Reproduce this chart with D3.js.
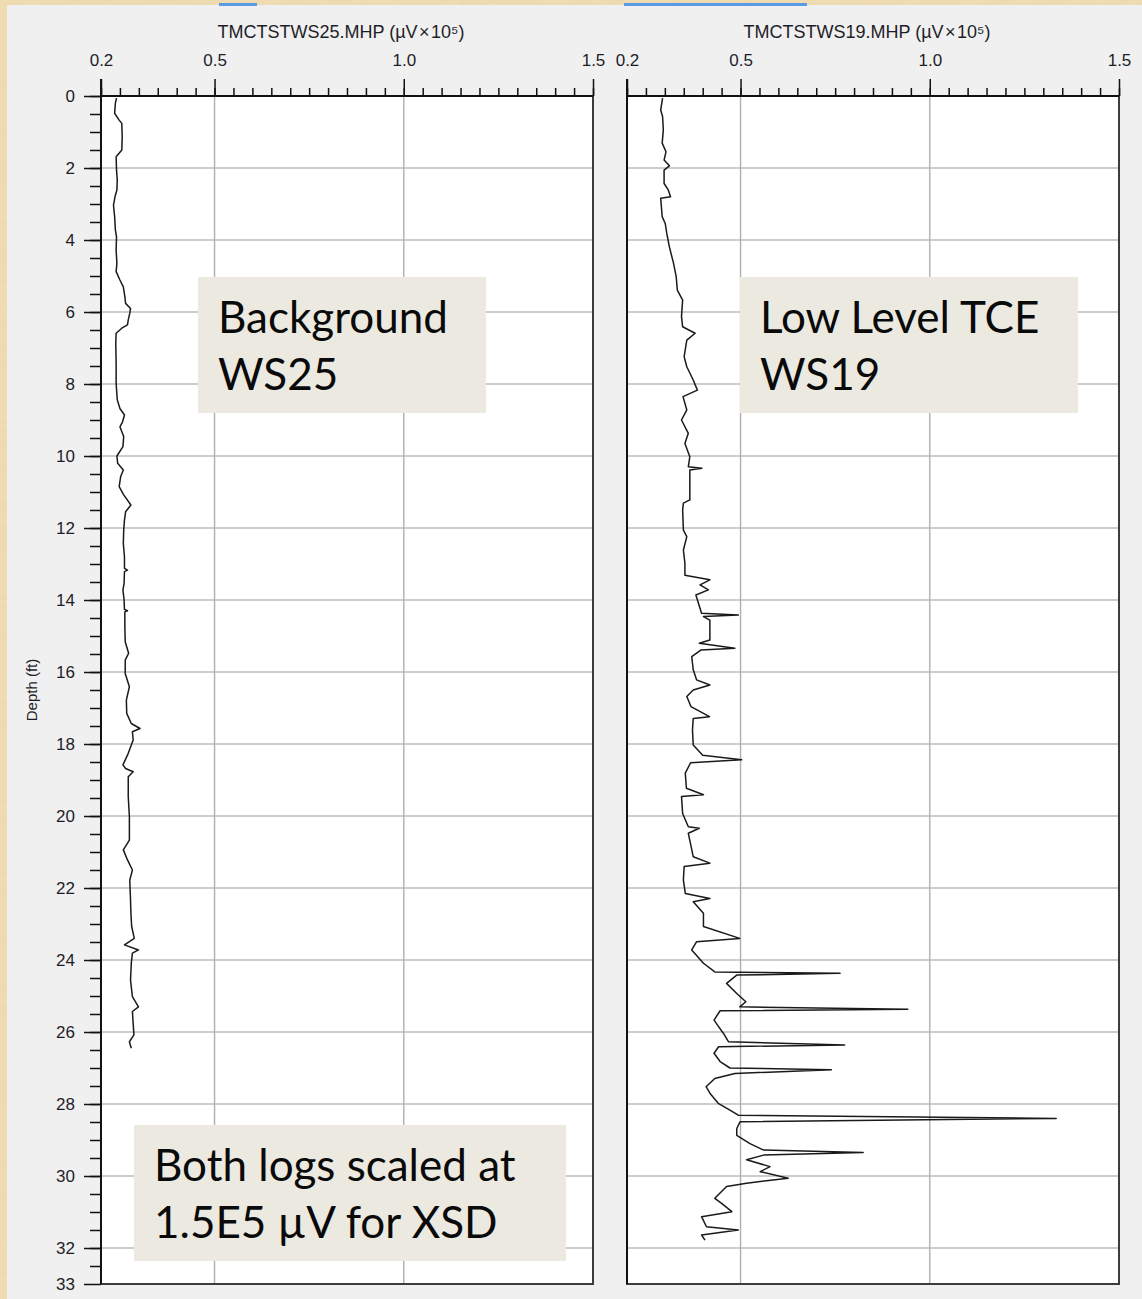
<!DOCTYPE html>
<html>
  <head>
    <meta charset="utf-8" />
    <title>XSD logs WS25 / WS19</title>
    <script src="https://d3js.org/d3.v7.min.js"></script>
    <style>
      html, body { margin: 0; padding: 0; background: #ecd7aa; }
      svg { display: block; }
      .tick text { font-family: "Liberation Sans", Arial, sans-serif; font-size: 17px; fill: #1e1e28; }
    </style>
  </head>
  <body>
    <div id="chart"></div>

    <script>
      // depth axis (ft)
      const depthTicks = d3.range(0, 33, 2).concat([33]);
      const depthMinor = d3.range(0, 33, 0.5);
      // value axis (µV x 10^5)
      const valueTicks = [0.2, 0.5, 1.0, 1.5];
      const valueMinor = d3.range(0.2, 1.5001, 0.05);

      const titles = ["TMCTSTWS25.MHP (\u00b5V\u200a\u00d7\u200a10\u2075)", "TMCTSTWS19.MHP (\u00b5V\u200a\u00d7\u200a10\u2075)"];

      // WS25 background log
      const ws25Depth = [0.06, 0.2, 0.48, 0.67, 0.76, 1.13, 1.5, 1.69, 2.06, 2.33, 2.61, 2.8, 3.03, 3.35, 3.72, 3.91,
        4.28, 4.65, 4.88, 5.11, 5.3, 5.57, 5.76, 5.9, 6.04, 6.22, 6.36, 6.45, 6.59, 6.87, 7.43, 7.98, 8.44, 8.68,
        8.86, 9.05, 9.19, 9.46, 9.74, 10.0, 10.2, 10.39, 10.57, 10.85, 11.08, 11.36, 11.55, 11.78, 12.06, 12.43,
        12.8, 13.12, 13.17, 13.21, 13.54, 13.72, 14.0, 14.26, 14.3, 14.33, 14.74, 15.16, 15.48, 15.67, 16.04,
        16.41, 16.78, 17.15, 17.43, 17.57, 17.66, 17.89, 18.26, 18.58, 18.68, 18.77, 18.91, 19.46, 20.02, 20.67,
        20.94, 21.22, 21.5, 21.78, 22.33, 22.7, 23.07, 23.4, 23.58, 23.72, 23.81, 24.09, 24.56, 25.02, 25.3,
        25.43, 25.76, 26.08, 26.27, 26.45];
      const ws25Value = [0.241, 0.238, 0.236, 0.248, 0.255, 0.256, 0.255, 0.240, 0.241, 0.243, 0.242, 0.237, 0.233,
        0.236, 0.238, 0.241, 0.240, 0.242, 0.240, 0.250, 0.259, 0.263, 0.265, 0.278, 0.276, 0.272, 0.270, 0.255,
        0.240, 0.239, 0.240, 0.240, 0.243, 0.250, 0.262, 0.257, 0.250, 0.260, 0.258, 0.242, 0.244, 0.259, 0.252,
        0.248, 0.260, 0.279, 0.265, 0.262, 0.260, 0.259, 0.262, 0.262, 0.270, 0.262, 0.261, 0.258, 0.261, 0.262,
        0.270, 0.263, 0.263, 0.264, 0.273, 0.264, 0.264, 0.275, 0.267, 0.268, 0.280, 0.303, 0.283, 0.285, 0.272,
        0.258, 0.265, 0.285, 0.272, 0.272, 0.275, 0.275, 0.259, 0.270, 0.283, 0.276, 0.278, 0.279, 0.281, 0.288,
        0.262, 0.299, 0.283, 0.280, 0.278, 0.283, 0.299, 0.283, 0.285, 0.287, 0.275, 0.280];

      // WS19 low level TCE log
      const ws19Depth = [0.06, 0.39, 0.57, 0.94, 1.31, 1.55, 1.78, 1.94, 2.06, 2.43, 2.61, 2.8, 2.84, 3.35, 3.54,
        3.81, 4.19, 4.65, 5.02, 5.39, 5.67, 6.13, 6.41, 6.59, 6.78, 7.24, 7.52, 7.89, 8.17, 8.35, 8.72, 9.0,
        9.37, 9.65, 10.02, 10.3, 10.34, 10.39, 10.76, 11.22, 11.31, 11.5, 12.06, 12.24, 12.61, 12.98, 13.31,
        13.44, 13.58, 13.72, 13.86, 14.37, 14.42, 14.46, 14.56, 15.11, 15.2, 15.34, 15.39, 15.57, 15.94, 16.22,
        16.36, 16.5, 16.68, 16.96, 17.24, 17.29, 17.61, 18.03, 18.31, 18.44, 18.52, 18.81, 19.23, 19.41, 19.46,
        19.93, 20.3, 20.34, 20.48, 21.13, 21.31, 21.4, 21.78, 22.15, 22.29, 22.38, 22.7, 23.07, 23.4, 23.49,
        23.72, 24.09, 24.33, 24.37, 24.42, 24.65, 24.93, 25.16, 25.3, 25.37, 25.41, 25.67, 25.85, 26.04, 26.27,
        26.36, 26.41, 26.59, 26.82, 27.0, 27.05, 27.15, 27.29, 27.52, 27.7, 27.98, 28.17, 28.31, 28.4, 28.49,
        28.68, 28.87, 29.1, 29.28, 29.35, 29.42, 29.55, 29.74, 29.88, 30.06, 30.2, 30.29, 30.62, 30.76, 30.99,
        31.13, 31.41, 31.5, 31.64, 31.78];
      const ws19Value = [0.294, 0.289, 0.294, 0.296, 0.293, 0.303, 0.298, 0.312, 0.298, 0.298, 0.309, 0.315, 0.289,
        0.293, 0.301, 0.305, 0.312, 0.323, 0.330, 0.333, 0.347, 0.344, 0.347, 0.380, 0.358, 0.351, 0.358, 0.375,
        0.386, 0.348, 0.358, 0.344, 0.362, 0.353, 0.366, 0.362, 0.398, 0.366, 0.366, 0.366, 0.349, 0.347, 0.349,
        0.358, 0.349, 0.353, 0.353, 0.419, 0.393, 0.415, 0.382, 0.397, 0.494, 0.402, 0.419, 0.419, 0.391, 0.485,
        0.395, 0.371, 0.375, 0.384, 0.419, 0.375, 0.358, 0.369, 0.418, 0.375, 0.373, 0.375, 0.400, 0.503, 0.368,
        0.354, 0.357, 0.402, 0.344, 0.347, 0.362, 0.391, 0.362, 0.375, 0.419, 0.351, 0.349, 0.354, 0.419, 0.375,
        0.402, 0.402, 0.498, 0.384, 0.371, 0.402, 0.432, 0.763, 0.490, 0.463, 0.490, 0.514, 0.498, 0.942, 0.446,
        0.430, 0.442, 0.455, 0.468, 0.775, 0.442, 0.430, 0.446, 0.472, 0.740, 0.485, 0.432, 0.409, 0.419, 0.441,
        0.472, 0.494, 1.334, 0.499, 0.490, 0.490, 0.525, 0.561, 0.824, 0.561, 0.516, 0.578, 0.552, 0.626, 0.516,
        0.463, 0.432, 0.450, 0.477, 0.397, 0.410, 0.494, 0.397, 0.406];

      const notes = [
        { panel: 0, lines: ["Background", "WS25"] },
        { panel: 1, lines: ["Low Level TCE", "WS19"] },
        { panel: 0, lines: ["Both logs scaled at", "1.5E5 \u00b5V for XSD"] }
      ];

      const W = 1142, H = 1299;
      const svg = d3.select("#chart").append("svg").attr("width", W).attr("height", H);

      // parchment background
      const defs = svg.append("defs");
      const f = defs.append("filter").attr("id", "paper").attr("x", 0).attr("y", 0).attr("width", 1).attr("height", 1);
      f.append("feTurbulence").attr("type", "fractalNoise").attr("baseFrequency", "0.05 0.2").attr("numOctaves", 3).attr("seed", 7);
      f.append("feColorMatrix").attr("type", "matrix")
        .attr("values", "0 0 0 0 0.82  0 0 0 0 0.66  0 0 0 0 0.42  0 0 0 -1.2 0.75");
      svg.append("rect").attr("width", W).attr("height", H).attr("fill", "#efdcb0");
      svg.append("rect").attr("width", W).attr("height", H).attr("filter", "url(#paper)").attr("opacity", 0.6);

      // window panel
      svg.append("rect").attr("x", 7).attr("y", 5).attr("width", W - 7).attr("height", H - 5).attr("fill", "#f0f0f0");
      svg.append("rect").attr("x", 219).attr("y", 3).attr("width", 38).attr("height", 3).attr("fill", "#5b9be6");
      svg.append("rect").attr("x", 624).attr("y", 3).attr("width", 183).attr("height", 3).attr("fill", "#5b9be6");

      const y = d3.scaleLinear().domain([0, 33]).range([96, 1284]);
      const panels = [
        { x: d3.scaleLinear().domain([0.2, 1.5]).range([101, 593]), depth: ws25Depth, value: ws25Value },
        { x: d3.scaleLinear().domain([0.2, 1.5]).range([627, 1119]), depth: ws19Depth, value: ws19Value }
      ];

      panels.forEach((p, i) => {
        const [x0, x1] = p.x.range();
        const g = svg.append("g");
        g.append("rect").attr("x", x0).attr("y", y(0)).attr("width", x1 - x0).attr("height", y(33) - y(0)).attr("fill", "#fff");

        // grid
        g.selectAll(".hg").data(d3.range(2, 33, 2)).join("line")
          .attr("x1", x0).attr("x2", x1).attr("y1", d => y(d)).attr("y2", d => y(d))
          .attr("stroke", "#bdbdbd").attr("stroke-width", 1.6);
        g.selectAll(".vg").data([0.5, 1.0]).join("line")
          .attr("x1", d => p.x(d)).attr("x2", d => p.x(d)).attr("y1", y(0)).attr("y2", y(33))
          .attr("stroke", "#b0b0b0").attr("stroke-width", 1.4);

        // border
        g.append("rect").attr("x", x0).attr("y", y(0)).attr("width", x1 - x0).attr("height", y(33) - y(0))
          .attr("fill", "none").attr("stroke", "#3c3c3c").attr("stroke-width", 2);
        g.append("line").attr("x1", x0).attr("x2", x1).attr("y1", y(0)).attr("y2", y(0)).attr("stroke", "#111").attr("stroke-width", 2);

        // top axis
        const minor = d3.axisTop(p.x).tickValues(valueMinor).tickSize(8).tickSizeOuter(0).tickFormat("");
        const major = d3.axisTop(p.x).tickValues(valueTicks).tickSize(17).tickSizeOuter(0).tickPadding(13).tickFormat(d3.format(".1f"));
        [minor, major].forEach(ax => {
          const a = g.append("g").attr("transform", `translate(0,${y(0)})`).call(ax);
          a.select(".domain").remove();
          a.selectAll(".tick line").attr("stroke", "#111").attr("stroke-width", 1.5);
        });

        // title
        g.append("text").attr("x", (x0 + x1) / 2 - 6).attr("y", 38).attr("text-anchor", "middle")
          .style("font-family", "'Liberation Sans', Arial, sans-serif").style("font-size", "18px").attr("fill", "#1e1e28")
          .text(titles[i]);

        // trace
        const pts = p.depth.map((d, k) => [p.value[k], d]);
        g.append("path").datum(pts)
          .attr("d", d3.line().x(d => p.x(d[0])).y(d => y(d[1])))
          .attr("fill", "none").attr("stroke", "#1a1a1a").attr("stroke-width", 1.5).attr("stroke-linejoin", "round");
      });

      // depth axis
      const x0 = panels[0].x.range()[0];
      [
        d3.axisLeft(y).tickValues(depthMinor).tickSize(11).tickSizeOuter(0).tickFormat(""),
        d3.axisLeft(y).tickValues(depthTicks).tickSize(17).tickSizeOuter(0).tickPadding(9).tickFormat(d3.format("d"))
      ].forEach(ax => {
        const a = svg.append("g").attr("transform", `translate(${x0},0)`).call(ax);
        a.select(".domain").remove();
        a.selectAll(".tick line").attr("stroke", "#111").attr("stroke-width", 1.5);
      });
      svg.append("line").attr("x1", x0).attr("x2", x0).attr("y1", y(0) - 17).attr("y2", y(33)).attr("stroke", "#111").attr("stroke-width", 2);
      svg.append("line").attr("x1", panels[1].x.range()[0]).attr("x2", panels[1].x.range()[0])
        .attr("y1", y(0) - 17).attr("y2", y(33)).attr("stroke", "#111").attr("stroke-width", 2);

      svg.append("text").attr("transform", "translate(37,690) rotate(-90)").attr("text-anchor", "middle")
        .style("font-family", "'Liberation Sans', Arial, sans-serif").style("font-size", "15px").attr("fill", "#1e1e28")
        .text("Depth (ft)");

      // annotation boxes
      const boxes = [
        { x: 198, y: 277, w: 288, h: 136 },
        { x: 740, y: 277, w: 338, h: 136 },
        { x: 134, y: 1125, w: 432, h: 136 }
      ];
      notes.forEach((n, i) => {
        const b = boxes[i];
        svg.append("rect").attr("x", b.x).attr("y", b.y).attr("width", b.w).attr("height", b.h).attr("fill", "#ece9e0");
        n.lines.forEach((t, k) => {
          svg.append("text").attr("x", b.x + 20).attr("y", b.y + 56 + k * 57)
            .style("font-family", "Lato, 'Open Sans', sans-serif").style("font-size", "44px").attr("fill", "#0a0a0a")
            .text(t);
        });
      });
    </script>
  </body>
</html>
